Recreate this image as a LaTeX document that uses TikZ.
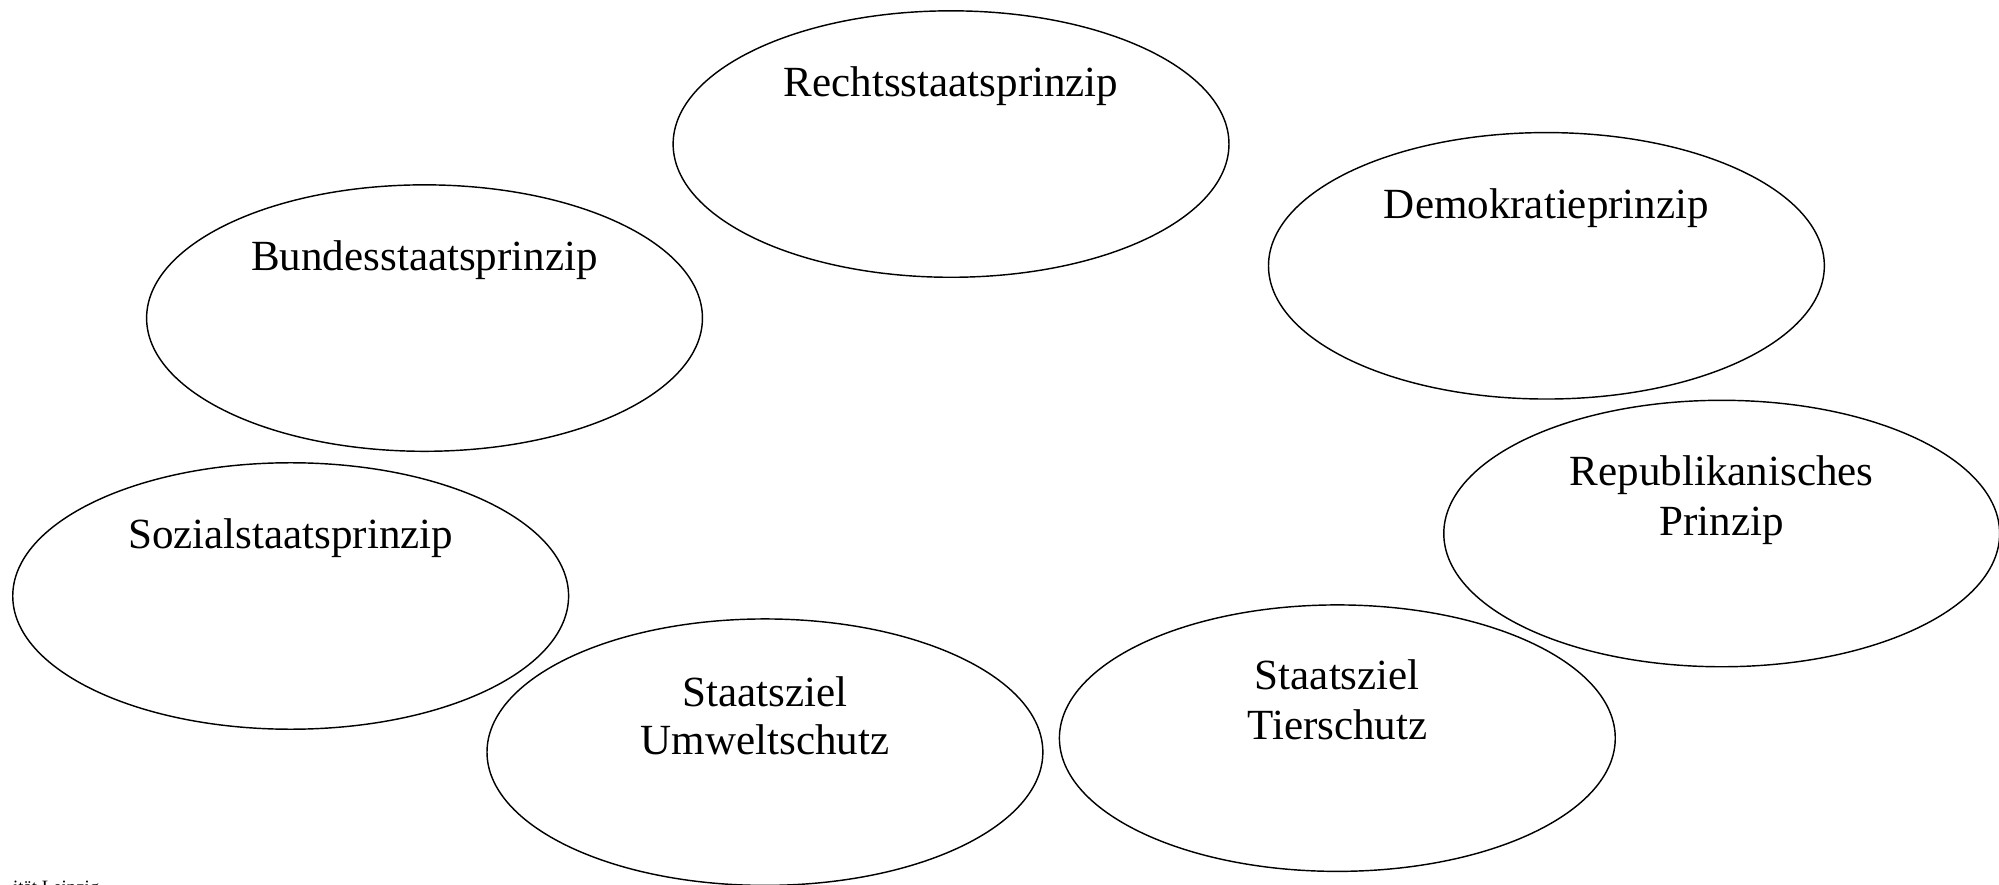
\documentclass[tikz,border=0pt]{standalone}
\usepackage{fontspec}
\setmainfont{Liberation Serif}
\usetikzlibrary{shapes.geometric}
\tikzset{
  bubble/.style={draw=black, line width=0.8pt, ellipse, inner sep=0pt,
    minimum width=436*0.025cm, minimum height=209*0.025cm},
  lbl/.style={anchor=base, inner sep=0pt, font=\fontsize{24}{28}\selectfont},
  foot/.style={anchor=base west, inner sep=0pt, font=\fontsize{10.5}{12}\selectfont}
}
\begin{document}
\begin{tikzpicture}[x=0.025cm, y=-0.025cm]
\useasboundingbox (0,0) rectangle (1568,694);
\clip (0,0) rectangle (1568,694);
% ellipses
\node[bubble] (e1) at (746,113) {};
\node[bubble] (e2) at (1213,208.5) {};
\node[bubble] (e3) at (333,249.5) {};
\node[bubble] (e4) at (228,467.5) {};
\node[bubble] (e5) at (1350.5,418.5) {};
\node[bubble] (e6) at (600,590) {};
\node[bubble] (e7) at (1049,579) {};
% labels
\node[lbl] (t1) at (746,76) {Rechtsstaatsprinzip};
\node[lbl] (t2) at (1213,171.5) {Demokratieprinzip};
\node[lbl] (t3) at (333,212.5) {Bundesstaatsprinzip};
\node[lbl] (t4) at (228,430.5) {Sozialstaatsprinzip};
\node[lbl] (t5a) at (1350.5,381) {Republikanisches};
\node[lbl] (t5b) at (1350.5,420) {Prinzip};
\node[lbl] (t6a) at (600,554) {Staatsziel};
\node[lbl] (t6b) at (600,592) {Umweltschutz};
\node[lbl] (t7a) at (1049,541) {Staatsziel};
\node[lbl] (t7b) at (1049,580) {Tierschutz};
% footer (cut off at the lower edge)
\node[foot] (ft) at (10,701) {ität Leipzig};
\end{tikzpicture}
\end{document}
